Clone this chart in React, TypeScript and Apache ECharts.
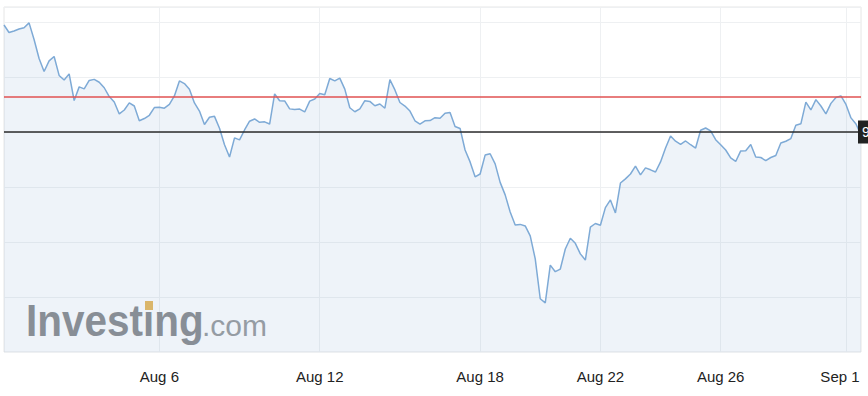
import React, { useEffect, useRef } from "react";
import * as echarts from "echarts";

// Price series (one point per ~5px step of the reference)
const values: number[] = [
  98.486, 98.452, 98.459, 98.468, 98.474, 98.496, 98.420, 98.334, 98.275, 98.323,
  98.343, 98.257, 98.236, 98.264, 98.143, 98.205, 98.196, 98.234, 98.239, 98.226,
  98.201, 98.161, 98.136, 98.082, 98.100, 98.132, 98.118, 98.051, 98.061, 98.076,
  98.111, 98.112, 98.108, 98.125, 98.164, 98.232, 98.220, 98.194, 98.132, 98.095,
  98.034, 98.067, 98.071, 98.017, 97.942, 97.886, 97.973, 97.964, 98.009, 98.049,
  98.059, 98.044, 98.046, 98.036, 98.173, 98.142, 98.141, 98.105, 98.102, 98.104,
  98.091, 98.140, 98.150, 98.175, 98.169, 98.243, 98.232, 98.245, 98.195, 98.110,
  98.092, 98.105, 98.142, 98.139, 98.119, 98.127, 98.108, 98.238, 98.191, 98.134,
  98.118, 98.095, 98.051, 98.036, 98.051, 98.052, 98.065, 98.062, 98.085, 98.089,
  98.025, 98.016, 97.918, 97.864, 97.796, 97.809, 97.895, 97.901, 97.855, 97.771,
  97.714, 97.636, 97.577, 97.580, 97.573, 97.528, 97.423, 97.242, 97.223, 97.395,
  97.365, 97.377, 97.468, 97.517, 97.494, 97.446, 97.418, 97.568, 97.584, 97.576,
  97.656, 97.691, 97.632, 97.768, 97.787, 97.809, 97.845, 97.805, 97.837, 97.828,
  97.818, 97.864, 97.927, 97.982, 97.958, 97.944, 97.959, 97.942, 97.927, 98.008,
  98.018, 98.005, 97.965, 97.942, 97.918, 97.882, 97.866, 97.914, 97.915, 97.943,
  97.886, 97.884, 97.870, 97.884, 97.893, 97.950, 97.958, 97.970, 98.031, 98.037,
  98.136, 98.100, 98.147, 98.118, 98.082, 98.130, 98.157, 98.164, 98.125, 98.064,
  98.036, 97.986,
];

// Tick labels and the point index each one sits on
const tickLabels: string[] = ["Aug 6", "Aug 12", "Aug 18", "Aug 22", "Aug 26", "Sep 1"];
const tickIndex: number[] = [31, 63, 95, 119, 143, 168];

// Reference lines
const currentPrice = 97.995;
const redLevel = 98.159;

// Y scale
const yMin = 97.0;
const yMax = 98.568;
const yInterval = 0.25;

const categories: string[] = values.map((_, i) => {
  const k = tickIndex.indexOf(i);
  return k >= 0 ? tickLabels[k] : String(i);
});

export default function App() {
  const ref = useRef<HTMLDivElement>(null);

  useEffect(() => {
    if (!ref.current) return;
    const chart = echarts.init(ref.current, undefined, { renderer: "svg" });
    const isTick = (i: number) => tickIndex.includes(i);
    chart.setOption({
      animation: false,
      backgroundColor: "#ffffff",
      grid: {
        left: 4,
        right: 7,
        top: 7,
        bottom: 44,
        show: true,
        borderColor: "#e6e6e6",
        borderWidth: 1,
        backgroundColor: "transparent",
      },
      xAxis: {
        type: "category",
        data: categories,
        boundaryGap: false,
        axisLine: { show: false },
        axisTick: { show: false },
        axisLabel: {
          interval: (i: number) => isTick(i),
          color: "#222",
          fontSize: 15,
          fontFamily: "Liberation Sans, Arial, sans-serif",
          margin: 17,
          formatter: (v: string) => (v === "Sep 1" ? "{r|Sep 1}" : v),
          rich: {
            r: {
              color: "#222",
              fontSize: 15,
              fontFamily: "Liberation Sans, Arial, sans-serif",
              padding: [0, 12, 0, 0],
            },
          },
        },
        splitLine: {
          show: true,
          interval: (i: number) => isTick(i),
          lineStyle: { color: "#eef0f2", width: 1 },
        },
      },
      yAxis: {
        type: "value",
        position: "right",
        min: yMin,
        max: yMax,
        interval: yInterval,
        axisLine: { show: false },
        axisTick: { show: false },
        axisLabel: { show: false },
        splitLine: { show: true, lineStyle: { color: "#eef0f2", width: 1 } },
      },
      graphic: [
        {
          type: "text",
          x: 26,
          y: 321,
          scaleX: 0.92,
          z: 1,
          style: {
            text: "Investing",
            font: 'bold 44px "Liberation Sans", Arial, sans-serif',
            fill: "#8a8c8e",
            verticalAlign: "middle",
            align: "left",
          },
        },
        {
          type: "text",
          x: 202,
          y: 325,
          z: 1,
          style: {
            text: ".com",
            font: '30px "Liberation Sans", Arial, sans-serif',
            fill: "#999b9d",
            verticalAlign: "middle",
            align: "left",
          },
        },
        {
          type: "rect",
          z: 2,
          shape: { x: 145, y: 301, width: 8, height: 9 },
          style: { fill: "#e8b95c" },
        },
      ],
      series: [
        {
          type: "line",
          data: values,
          showSymbol: false,
          symbol: "none",
          smooth: false,
          lineStyle: { color: "#7eaad6", width: 1.5 },
          areaStyle: { color: "rgba(120,165,205,0.185)" },
          markLine: {
            silent: true,
            symbol: "none",
            animation: false,
            data: [
              {
                yAxis: redLevel,
                lineStyle: { color: "#e05252", width: 1.5, type: "solid" },
                label: { show: false },
              },
              {
                yAxis: currentPrice,
                lineStyle: { color: "#2b2b2b", width: 1.5, type: "solid" },
                label: {
                  show: true,
                  position: "end",
                  distance: -3,
                  formatter: currentPrice.toFixed(3),
                  color: "#ffffff",
                  backgroundColor: "#222222",
                  fontSize: 14,
                  fontFamily: "Liberation Sans, Arial, sans-serif",
                  padding: [5, 4, 4, 4],
                },
              },
            ],
          },
        },
      ],
    });
    return () => chart.dispose();
  }, []);

  return (
    <div
      ref={ref}
      style={{ position: "fixed", left: 0, top: 0, width: 868, height: 396 }}
    />
  );
}
